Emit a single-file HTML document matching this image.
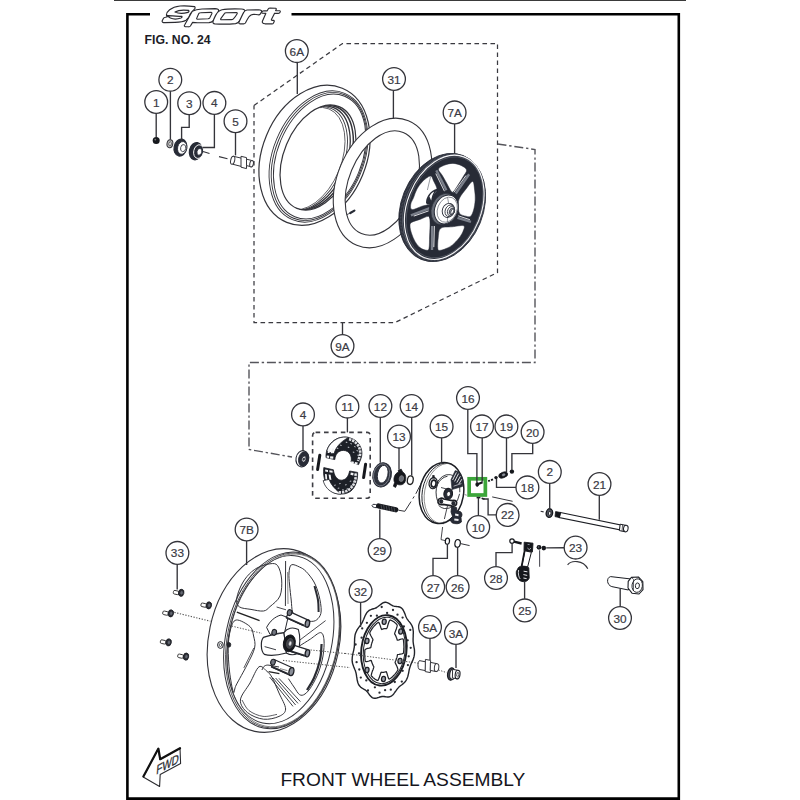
<!DOCTYPE html>
<html><head><meta charset="utf-8"><title>Front Wheel Assembly</title>
<style>
html,body{margin:0;padding:0;background:#fff;}
body{width:800px;height:800px;overflow:hidden;font-family:"Liberation Sans",sans-serif;}
svg{display:block;font-family:"Liberation Sans",sans-serif;}
</style></head><body>
<svg width="800" height="800" viewBox="0 0 800 800">
<rect x="114" y="0" width="572" height="1" fill="#3a3a3a"/>
<path d="M150,14.2 H127.4 V798.6 H678.8 V14.2 H291.5" fill="none" stroke="#000" stroke-width="2.6" stroke-linejoin="miter"/>
<text x="144.6" y="43.5" font-size="12.25" font-weight="bold" fill="#1d1d28">FIG. NO. 24</text>
<text x="280.4" y="785.8" font-size="18.8" fill="#15151c" textLength="245" lengthAdjust="spacingAndGlyphs">FRONT WHEEL ASSEMBLY</text>
<path d="M180,6 C184,5.6 190,6 194.4,6.6 Q195.6,7.4 194.8,8.6 L192.6,11.4 L190.4,13.6 C189.8,16 188.6,18.4 186,20.2 C183.6,21.6 180,22.2 175,22.4 L165,22.6 Q161.6,22.6 162.2,20.8 L163.4,18.4 Q164,17.4 165.6,17.2 L167.4,16.6 L166.4,15 C166.4,13 167.6,11.4 169.6,9.8 C172.4,7.6 176,6.4 180,6 Z" fill="#fff" stroke="#2b2b30" stroke-width="1.15" stroke-linejoin="round" stroke-linecap="round"/>
<path d="M175,12 C177.6,10.4 184,9.8 188.6,10.4 Q189.6,11.4 188,12.4 C184,13.4 178,13.4 175,12 Z" fill="#fff" stroke="#2b2b30" stroke-width="1.2" stroke-linejoin="round" stroke-linecap="round"/>
<path d="M166.6,15.4 C171,16 177,16 182,16.4 Q182.4,17.4 181,18 C177.6,19.2 172.6,19 170.4,18 Z" fill="#fff" stroke="#2b2b30" stroke-width="1.2" stroke-linejoin="round" stroke-linecap="round"/>
<path d="M192.3,11.3 C195,9.8 198,9.2 202,9 L215,8.6 Q219,8.8 218.6,10.4 C218.4,12.4 217.6,14 216.6,15.6 C215.4,17.6 214.4,19.4 213,20.8 Q211.6,22.4 209,22.6 L197.6,22.8 L192.6,22.4 L190.4,26 Q189.8,26.8 188.6,26.8 L185.2,26.6 Q183.8,26.2 184.6,25 Z" fill="#fff" stroke="#2b2b30" stroke-width="1.15" stroke-linejoin="round" stroke-linecap="round"/>
<path d="M198.8,13.6 Q199.2,12.8 200.4,12.8 L211,12.4 Q212.4,12.6 211.8,13.8 L209.8,17.8 Q209.2,18.6 208,18.8 L197.4,19.2 Q196.2,19 196.8,18 Z" fill="#fff" stroke="#2b2b30" stroke-width="1.1" stroke-linejoin="round" stroke-linecap="round"/>
<path d="M213,21.6 C213.6,19.6 214.4,17.6 215.6,15.4 C217.2,12.4 219,10.6 222,9.8 C226,9 236,8.8 241.4,9 Q245.4,9.4 244.8,11.2 C244.2,13.6 243,16.2 241.2,18.8 C239.6,21.2 238.4,23 235.6,23.6 C230,24.2 220,24.2 215,24 Q212.4,23.6 213,21.6 Z" fill="#fff" stroke="#2b2b30" stroke-width="1.15" stroke-linejoin="round" stroke-linecap="round"/>
<path d="M224.4,13.6 Q224.8,12.8 226,12.8 L236.4,12.6 Q237.8,12.8 237,14 C236,15.8 234.8,17.4 233.4,18.8 Q232.6,19.6 231.4,19.6 L221.4,19.8 Q220.2,19.6 220.8,18.6 Z" fill="#fff" stroke="#2b2b30" stroke-width="1.1" stroke-linejoin="round" stroke-linecap="round"/>
<path d="M239,22.2 C240.6,18.6 242,15.4 243.6,12.6 Q244.4,10.4 247,10 L258.6,9.8 Q262.4,10 261.4,12 L260.2,14.2 Q259.6,15 258,14.8 L254,14.2 C251.6,14.2 250,15.2 248.8,17 C247.6,18.8 246.4,21 245.4,23 Q244.8,23.8 243.6,23.8 L239.8,23.8 Q238.4,23.4 239,22.2 Z" fill="#fff" stroke="#2b2b30" stroke-width="1.15" stroke-linejoin="round" stroke-linecap="round"/>
<path d="M270.2,8 L275.6,8.2 Q276.6,8.6 276.2,9.4 L275.6,10.6 L279.6,10.8 Q280.6,11.2 280.2,12 L279.6,12.8 Q279.2,13.4 278.2,13.4 L274.6,13.2 L271.4,19.6 Q271.2,20.4 272.2,20.4 L273.6,20.4 Q274.6,20.8 274.2,21.6 L273.4,23.2 Q273,23.8 272,23.8 L265,23.8 Q261.6,23.4 262.4,21.2 L265.8,13.4 L262.4,13.2 Q261.4,12.8 261.8,12 L262.6,11.2 Q263,10.8 264,10.8 L267.2,10.8 L268.2,9 Q268.8,8 270.2,8 Z" fill="#fff" stroke="#2b2b30" stroke-width="1.15" stroke-linejoin="round" stroke-linecap="round"/>
<polyline points="254,105.5 342.5,43.5 497.5,43.5 497.5,272.5 395,322.5 254,322.5 254,105.5" fill="none" stroke="#3a3a40" stroke-width="1.25" stroke-dasharray="4.6,3.4" />
<polyline points="497.5,144 535,149.5 535,362.5 249,362.5 249,449.5 292,457" fill="none" stroke="#55555b" stroke-width="1.4" stroke-dasharray="9,2.8,2.4,2.8" />
<defs><clipPath id="tireHole"><ellipse cx="318" cy="157.5" rx="34.1" ry="55.1" transform="rotate(22.5 318 157.5)"/></clipPath></defs>
<ellipse cx="314.5" cy="155.3" rx="52" ry="72.6" transform="rotate(22.5 314.5 155.3)" fill="#fff" stroke="#34343a" stroke-width="1.2" />
<ellipse cx="318.5" cy="156.5" rx="45.3" ry="68.4" transform="rotate(22.5 318.5 156.5)" fill="none" stroke="#34343a" stroke-width="0.9" />
<ellipse cx="319.1" cy="156.5" rx="43.699999999999996" ry="66.80000000000001" transform="rotate(22.5 319.1 156.5)" fill="none" stroke="#34343a" stroke-width="0.9" />
<ellipse cx="319.7" cy="156.5" rx="42.099999999999994" ry="65.2" transform="rotate(22.5 319.7 156.5)" fill="none" stroke="#34343a" stroke-width="0.9" />
<g clip-path="url(#tireHole)">
<ellipse cx="315.6" cy="157.788" rx="33.9" ry="54.9" transform="rotate(22.5 315.6 157.788)" fill="none" stroke="#34343a" stroke-width="1.5" />
<ellipse cx="312.8" cy="158.124" rx="33.6" ry="54.6" transform="rotate(22.5 312.8 158.124)" fill="none" stroke="#34343a" stroke-width="1.3" />
<ellipse cx="310.4" cy="158.412" rx="33.2" ry="54.2" transform="rotate(22.5 310.4 158.412)" fill="none" stroke="#34343a" stroke-width="0.9" />
<ellipse cx="308.4" cy="158.652" rx="32.8" ry="53.8" transform="rotate(22.5 308.4 158.652)" fill="none" stroke="#34343a" stroke-width="0.7" />
</g>
<ellipse cx="318" cy="157.5" rx="34.1" ry="55.1" transform="rotate(22.5 318 157.5)" fill="none" stroke="#34343a" stroke-width="1.2" />
<path d="M408.39,120.73 A45.2,67.4 22.5 1 0 356.81,245.27 A45.2,67.4 22.5 1 0 408.39,120.73 Z M403.23,132.46 A33.2,54.7 22.5 1 0 361.37,233.54 A33.2,54.7 22.5 1 0 403.23,132.46 Z" fill="#fff" fill-rule="evenodd" stroke="#34343a" stroke-width="1.1"/>
<polyline points="350.3,213 354.4,210.6" fill="none" stroke="#272b36" stroke-width="2.2" stroke-linecap="round"/>
<polyline points="346.5,214.8 350.3,213" fill="none" stroke="#34343a" stroke-width="0.9" />
<ellipse cx="442.2" cy="207.5" rx="41" ry="56" transform="rotate(22 442.2 207.5)" fill="#272b36" stroke="#272b36" stroke-width="0.8" />
<ellipse cx="442.7" cy="207.4" rx="39.5" ry="54.9" transform="rotate(22 442.7 207.4)" fill="none" stroke="#4c515c" stroke-width="1.6" stroke-dasharray="0.7,0.7"/>
<ellipse cx="443.4" cy="207.4" rx="38.2" ry="54.4" transform="rotate(22 443.4 207.4)" fill="none" stroke="#8a8f99" stroke-width="0.5" />
<ellipse cx="444.2" cy="207.3" rx="36.9" ry="54.1" transform="rotate(22 444.2 207.3)" fill="none" stroke="#f4f4f6" stroke-width="1.15" />
<ellipse cx="444.6" cy="207.3" rx="35.6" ry="52.6" transform="rotate(22 444.6 207.3)" fill="none" stroke="#6f747e" stroke-width="0.5" />
<path d="M438.5,169.0 C439.0,167.3 442.6,165.9 445.0,165.0 C447.4,164.1 450.3,163.3 453.0,163.4 C455.7,163.5 458.7,164.3 461.0,165.4 C463.3,166.5 466.3,168.1 466.6,170.0 C466.9,171.9 464.4,174.5 463.0,177.0 C461.6,179.5 459.6,182.6 458.0,185.0 C456.4,187.4 454.6,190.6 453.4,191.6 C452.2,192.6 452.1,192.4 451.0,191.0 C449.9,189.6 448.1,185.7 446.6,183.0 C445.1,180.3 443.4,177.3 442.0,175.0 C440.6,172.7 438.0,170.7 438.5,169.0 Z" fill="#fff" stroke="#272b36" stroke-width="0.5"/>
<path d="M472.6,181.4 C474.0,181.6 474.2,186.9 474.6,190.0 C475.0,193.1 475.4,196.7 475.2,200.0 C475.0,203.3 474.4,207.3 473.6,210.0 C472.8,212.7 471.9,215.2 470.6,216.2 C469.3,217.2 467.8,216.7 466.0,216.2 C464.2,215.7 460.9,215.3 459.6,213.4 C458.3,211.5 458.4,207.6 458.4,205.0 C458.4,202.4 458.3,200.7 459.6,198.0 C460.9,195.3 463.8,191.8 466.0,189.0 C468.2,186.2 471.2,181.2 472.6,181.4 Z" fill="#fff" stroke="#272b36" stroke-width="0.5"/>
<path d="M440.6,228.4 C442.9,226.5 448.2,227.2 452.0,226.8 C455.8,226.4 461.8,225.0 463.6,225.8 C465.4,226.6 463.8,229.3 463.0,231.4 C462.2,233.5 460.4,236.3 458.6,238.6 C456.9,240.8 454.6,243.2 452.5,244.9 C450.4,246.6 448.1,247.7 446.0,248.6 C443.9,249.5 441.2,250.4 439.8,250.4 C438.4,250.4 438.1,250.7 437.8,248.6 C437.5,246.5 437.7,241.4 438.2,238.0 C438.7,234.6 438.3,230.3 440.6,228.4 Z" fill="#fff" stroke="#272b36" stroke-width="0.5"/>
<path d="M411.6,222.4 C413.3,221.3 417.2,220.4 420.0,219.4 C422.8,218.4 426.9,216.0 428.6,216.4 C430.3,216.8 429.8,218.7 430.0,222.0 C430.2,225.3 429.8,231.6 429.6,236.0 C429.4,240.4 429.6,246.0 429.0,248.4 C428.4,250.8 427.5,250.3 426.0,250.2 C424.5,250.1 421.8,249.1 420.0,247.6 C418.2,246.1 416.4,243.8 415.0,241.4 C413.6,239.0 412.2,235.6 411.4,233.0 C410.6,230.4 410.0,227.8 410.0,226.0 C410.0,224.2 409.9,223.5 411.6,222.4 Z" fill="#fff" stroke="#272b36" stroke-width="0.5"/>
<path d="M413.6,197.6 C414.6,195.1 415.5,191.7 417.0,189.0 C418.5,186.3 420.4,183.6 422.6,181.4 C424.8,179.2 428.6,176.1 430.4,176.0 C432.2,175.9 432.5,178.8 433.6,181.0 C434.7,183.2 436.8,186.9 437.0,189.0 C437.2,191.1 435.5,192.1 434.6,193.6 C433.7,195.1 432.0,196.3 431.4,198.0 C430.8,199.7 432.6,202.2 431.0,203.6 C429.4,205.0 425.2,205.2 422.0,206.2 C418.8,207.2 413.9,210.0 412.0,209.6 C410.1,209.2 410.5,206.0 410.8,204.0 C411.1,202.0 412.6,200.1 413.6,197.6 Z" fill="#fff" stroke="#272b36" stroke-width="0.5"/>
<path d="M437.4,189.6 C431,191 426.6,197 426.8,203.4" fill="none" stroke="#272b36" stroke-width="1.6"/>
<path d="M437.4,189.6 C434,193 432,198.6 431.6,204 L426.8,204.6 C427,198 431,191.4 437.4,189.6 Z" fill="#272b36"/>
<path d="M429.4,196.4 C430.6,194 432.4,192.4 434.2,191.6 C432.6,194.4 431.6,197.4 431.2,200.6 Z" fill="#fff"/>
<polyline points="430.6,176.4 427.4,190" fill="none" stroke="#555a66" stroke-width="0.6" />
<line x1="446.4" y1="190.3" x2="436.3" y2="170.4" stroke="#7a7f8a" stroke-width="2.4"/>
<line x1="444.5" y1="191.3" x2="435.8" y2="173.6" stroke="#f2f2f5" stroke-width="0.9"/>
<line x1="455.7" y1="193.5" x2="469.1" y2="174.2" stroke="#7a7f8a" stroke-width="2.4"/>
<line x1="453.9" y1="192.3" x2="466.0" y2="175.5" stroke="#f2f2f5" stroke-width="0.9"/>
<line x1="457.5" y1="217.9" x2="471.0" y2="221.9" stroke="#7a7f8a" stroke-width="2.4"/>
<line x1="458.2" y1="215.8" x2="469.9" y2="219.7" stroke="#f2f2f5" stroke-width="0.9"/>
<line x1="432.2" y1="226.0" x2="432.0" y2="250.0" stroke="#7a7f8a" stroke-width="2.4"/>
<line x1="434.4" y1="226.0" x2="433.8" y2="247.1" stroke="#f2f2f5" stroke-width="0.9"/>
<line x1="429.8" y1="208.1" x2="410.9" y2="215.3" stroke="#7a7f8a" stroke-width="2.4"/>
<line x1="430.6" y1="210.2" x2="413.8" y2="216.1" stroke="#f2f2f5" stroke-width="0.9"/>
<ellipse cx="442.4" cy="208.8" rx="12.6" ry="17.4" transform="rotate(22 442.4 208.8)" fill="#272b36" stroke="#272b36" stroke-width="0.8" />
<ellipse cx="443.6" cy="209.0" rx="11.9" ry="16.2" transform="rotate(22 443.6 209.0)" fill="#676c77" stroke="#272b36" stroke-width="0.6" />
<ellipse cx="446.25" cy="209.4" rx="11.4" ry="14.9" transform="rotate(22 446.25 209.4)" fill="#fff" stroke="#272b36" stroke-width="1.0" />
<ellipse cx="447.2" cy="209.7" rx="9.6" ry="13.0" transform="rotate(22 447.2 209.7)" fill="none" stroke="#555a66" stroke-width="0.6" />
<polyline points="447.6,197.6 448.6,203.2" fill="none" stroke="#555a66" stroke-width="0.6" />
<polyline points="447.6,218 447.2,223.4" fill="none" stroke="#555a66" stroke-width="0.6" />
<ellipse cx="448.3" cy="210.4" rx="5.9" ry="7.2" transform="rotate(22 448.3 210.4)" fill="#fff" stroke="#272b36" stroke-width="0.9" />
<ellipse cx="449.8" cy="210.8" rx="4.6" ry="6.0" transform="rotate(22 449.8 210.8)" fill="#fff" stroke="#272b36" stroke-width="0.8" />
<ellipse cx="451.0" cy="211.1" rx="3.4" ry="4.8" transform="rotate(22 451.0 211.1)" fill="#fff" stroke="#272b36" stroke-width="0.8" />
<ellipse cx="451.7" cy="211.4" rx="2.3" ry="3.6" transform="rotate(22 451.7 211.4)" fill="#8a8e98" stroke="#272b36" stroke-width="0.7" />
<ellipse cx="452.3" cy="211.5" rx="1.2" ry="2.6" transform="rotate(22 452.3 211.5)" fill="#fff" stroke="#272b36" stroke-width="0.6" />
<circle cx="156.2" cy="140.6" r="3.5" fill="#16181d"/>
<circle cx="155.3" cy="139.6" r="0.9" fill="#777"/>
<ellipse cx="169.9" cy="143.7" rx="2.9" ry="4.0" transform="rotate(10 169.9 143.7)" fill="#bbb" stroke="#34343a" stroke-width="1.0" />
<ellipse cx="170.1" cy="143.8" rx="1.2" ry="1.9" transform="rotate(10 170.1 143.8)" fill="#fff" stroke="#34343a" stroke-width="0.7" />
<ellipse cx="180.4" cy="147.6" rx="6.3" ry="8.6" transform="rotate(12 180.4 147.6)" fill="#272b36" stroke="#272b36" stroke-width="1.2" />
<ellipse cx="182.2" cy="147.9" rx="4.6" ry="6.4" transform="rotate(12 182.2 147.9)" fill="#fff" stroke="#272b36" stroke-width="0.8" />
<ellipse cx="183.2" cy="148.1" rx="2.6" ry="3.6" transform="rotate(12 183.2 148.1)" fill="#fff" stroke="#272b36" stroke-width="0.8" />
<ellipse cx="195.8" cy="151.2" rx="6.4" ry="8.7" transform="rotate(12 195.8 151.2)" fill="#272b36" stroke="#272b36" stroke-width="1.2" />
<ellipse cx="198.6" cy="151.6" rx="4.9" ry="6.9" transform="rotate(12 198.6 151.6)" fill="#272b36" stroke="#fff" stroke-width="0.9" />
<ellipse cx="199.4" cy="151.8" rx="2.4" ry="3.4" transform="rotate(12 199.4 151.8)" fill="#fff" stroke="#272b36" stroke-width="0.8" />
<polyline points="203,151.5 209.5,153.6" fill="none" stroke="#34343a" stroke-width="1.1" />
<polyline points="219,156.6 227.5,158.8" fill="none" stroke="#34343a" stroke-width="1.1" />
<path d="M233,156.2 L241.5,158.2 L241.5,166.5 L233,164.3 Z" fill="#fff" stroke="#34343a" stroke-width="1"/>
<ellipse cx="232.7" cy="160.2" rx="2.0" ry="4.1" transform="rotate(12 232.7 160.2)" fill="#fff" stroke="#34343a" stroke-width="1.0" />
<path d="M241,156.3 L246.5,157.6 L246.5,168.6 L241,167.2 Z" fill="#fff" stroke="#34343a" stroke-width="1"/>
<path d="M246.5,159.2 L251.5,160.4 L251.5,166.8 L246.5,165.6 Z" fill="#fff" stroke="#34343a" stroke-width="1"/>
<ellipse cx="251.6" cy="163.7" rx="1.8" ry="3.3" transform="rotate(12 251.6 163.7)" fill="#fff" stroke="#34343a" stroke-width="1.0" />
<ellipse cx="302.3" cy="458.8" rx="6.3" ry="8.2" transform="rotate(12 302.3 458.8)" fill="#fff" stroke="#272b36" stroke-width="1.1" />
<ellipse cx="303.6" cy="459" rx="5.0" ry="7.4" transform="rotate(12 303.6 459)" fill="#272b36" stroke="#272b36" stroke-width="0.8" />
<ellipse cx="303.9" cy="459.1" rx="2.0" ry="3.0" transform="rotate(12 303.9 459.1)" fill="#fff" stroke="#272b36" stroke-width="0.8" />
<ellipse cx="303.9" cy="459.1" rx="0.8" ry="1.3" transform="rotate(12 303.9 459.1)" fill="#272b36" stroke="#272b36" stroke-width="0.6" />
<rect x="312.6" y="432.4" width="57.6" height="65.8" rx="3" fill="none" stroke="#3e3e44" stroke-width="1.6" stroke-dasharray="4.6,3.8"/>
<path d="M326,457.6 C325.6,450 329,444 334.6,440 C340,436.4 349,435.8 355.6,440.6 C361,444.8 363.4,452 361,458.6 L358.6,464.6 L351,462 C352.4,456.4 349.6,450.6 343.4,450.4 C338.4,450.4 335.4,454 334.8,459.6 Z" fill="#1d2027" stroke="#1d2027" stroke-width="0.8" stroke-linejoin="round"/>
<path d="M326.8,451.4 C328,445.6 332.4,440.8 338.4,438.2 C341.6,437 345,436.8 348.6,437.4 C344.6,439.6 339.6,443 336.8,447.4 C335.4,449.6 334.6,451.6 334,453.8 Z" fill="#fff" stroke="#1d2027" stroke-width="0.8" stroke-linejoin="round"/>
<path d="M328.6,448.4 L330.6,448.2 L329.4,453 L327.6,453 Z M332,448.6 L334.4,448.4 L332.4,453.2 L330.8,453.2 Z" fill="#f2f3f5"/>
<path d="M326.8,455.6 L329.2,455.8 L329,458 L326.6,457.6 Z M330.2,456.2 L333.4,456.6 L333.2,458.8 L330,458.4 Z" fill="#f2f3f5"/>
<path d="M351.4,461.2 L354,461.8 L353.6,463.6 L351,463 Z M355,462 L357.8,462.6 L357.2,464.4 L354.6,463.8 Z" fill="#f2f3f5"/>
<path d="M349,439.2 C352.4,440 355.6,442 357.8,445 C360,448.2 360.8,452.4 359.6,456.6 L358,461" fill="none" stroke="#dfe0e4" stroke-width="2.6" stroke-dasharray="2.4,0.9"/>
<rect x="346" y="441.6" width="1.6" height="0.9" fill="#c9ccd2" transform="rotate(25 346 441.6)"/>
<rect x="350.6" y="443" width="1.6" height="0.9" fill="#c9ccd2" transform="rotate(25 350.6 443)"/>
<rect x="354.4" y="446" width="1.6" height="0.9" fill="#c9ccd2" transform="rotate(25 354.4 446)"/>
<rect x="356.8" y="450" width="1.6" height="0.9" fill="#c9ccd2" transform="rotate(25 356.8 450)"/>
<rect x="357.6" y="454.6" width="1.6" height="0.9" fill="#c9ccd2" transform="rotate(25 357.6 454.6)"/>
<rect x="340.4" y="444.6" width="1.6" height="0.9" fill="#c9ccd2" transform="rotate(25 340.4 444.6)"/>
<rect x="337" y="447.6" width="1.6" height="0.9" fill="#c9ccd2" transform="rotate(25 337 447.6)"/>
<rect x="348" y="446.6" width="1.6" height="0.9" fill="#c9ccd2" transform="rotate(25 348 446.6)"/>
<rect x="353" y="451.4" width="1.6" height="0.9" fill="#c9ccd2" transform="rotate(25 353 451.4)"/>
<path d="M323.8,467.6 L333.4,469.8 C334,475.6 337,480 341.2,480.2 C345.6,480.2 348.6,476.6 349.6,471 L357.6,472.4 C358,480 355.6,487 351,491 C346.6,494.6 339,495 333.6,492.6 C326.6,489 322.4,478 323.8,467.6 Z" fill="#1d2027" stroke="#1d2027" stroke-width="0.8" stroke-linejoin="round"/>
<path d="M323.2,480.6 C324.6,486.6 329,491.4 335,493.4 C337,494 339,494.2 341,494 C337.6,491 333.4,487.6 331,483.4 C330.2,482 329.6,480.8 329.2,479.4 Z" fill="#fff" stroke="#1d2027" stroke-width="0.8" stroke-linejoin="round"/>
<path d="M325.2,469.6 L328,470 L328,472 L325.2,471.6 Z M329.4,470.2 L332.6,470.8 L332.6,472.8 L329.4,472.2 Z" fill="#f2f3f5"/>
<path d="M325,474 L326.8,474.2 L327.2,479.4 L325.4,479.2 Z M328.6,474.4 L330.6,474.8 L331.4,480 L329.4,479.6 Z" fill="#f2f3f5"/>
<path d="M350.8,472.4 L353.6,473 L353.2,475.4 L350.4,474.8 Z M354.6,473.2 L357,473.6 L356.6,476 L354.2,475.6 Z" fill="#f2f3f5"/>
<path d="M338.6,492.2 C343,492.8 347.6,491.4 350.8,488.2 C354,485 355.6,480.4 355.8,475.6" fill="none" stroke="#dfe0e4" stroke-width="2.6" stroke-dasharray="2.4,0.9"/>
<rect x="334" y="485" width="1.6" height="0.9" fill="#c9ccd2" transform="rotate(-15 334 485)"/>
<rect x="337.6" y="488" width="1.6" height="0.9" fill="#c9ccd2" transform="rotate(-15 337.6 488)"/>
<rect x="342" y="489.6" width="1.6" height="0.9" fill="#c9ccd2" transform="rotate(-15 342 489.6)"/>
<rect x="346.6" y="488.6" width="1.6" height="0.9" fill="#c9ccd2" transform="rotate(-15 346.6 488.6)"/>
<rect x="350.4" y="485.6" width="1.6" height="0.9" fill="#c9ccd2" transform="rotate(-15 350.4 485.6)"/>
<rect x="353" y="481.6" width="1.6" height="0.9" fill="#c9ccd2" transform="rotate(-15 353 481.6)"/>
<rect x="339" y="483.4" width="1.6" height="0.9" fill="#c9ccd2" transform="rotate(-15 339 483.4)"/>
<rect x="345" y="484.6" width="1.6" height="0.9" fill="#c9ccd2" transform="rotate(-15 345 484.6)"/>
<rect x="349.6" y="481" width="1.6" height="0.9" fill="#c9ccd2" transform="rotate(-15 349.6 481)"/>
<polyline points="319.8,455.2 317.6,469.6" fill="none" stroke="#16181d" stroke-width="3.0" stroke-linecap="round"/>
<polyline points="365.6,464.2 363.6,477.6" fill="none" stroke="#16181d" stroke-width="3.0" stroke-linecap="round"/>
<ellipse cx="382.1" cy="474.9" rx="9.2" ry="12.2" transform="rotate(12 382.1 474.9)" fill="#30343e" stroke="#272b36" stroke-width="1.0" />
<ellipse cx="381.6" cy="474.9" rx="8.0" ry="11.2" transform="rotate(12 381.6 474.9)" fill="none" stroke="#9a9ea8" stroke-width="0.6" />
<ellipse cx="382.7" cy="474.2" rx="5.2" ry="9.0" transform="rotate(12 382.7 474.2)" fill="#fff" stroke="#272b36" stroke-width="0.9" />
<path d="M398.2,470.2 L401.2,469.2 L402.6,472 C406,473.5 406.8,479 404.4,483 C402,485.6 398,485 397,484 L395.6,487.4 L393.4,486.2 L394.6,482.6 C393,479 394.4,473.6 398.6,472 Z" fill="#15171c" stroke="#15171c" stroke-width="0.8"/>
<ellipse cx="401.4" cy="478.6" rx="2.2" ry="3.0" transform="rotate(12 401.4 478.6)" fill="#6a6e78" stroke="#888" stroke-width="0.6" />
<ellipse cx="410.3" cy="480.2" rx="2.9" ry="4.3" transform="rotate(10 410.3 480.2)" fill="#fff" stroke="#222" stroke-width="1.3" />
<ellipse cx="375" cy="506" rx="3.0" ry="1.6" transform="rotate(12 375 506)" fill="#fff" stroke="#272b36" stroke-width="0.9" />
<polyline points="378.6,506 395.8,509.8" fill="none" stroke="#17191e" stroke-width="5.2" stroke-linecap="round"/>
<polyline points="381.0,504.40000000000003 381.8,509.20000000000005" fill="none" stroke="#70747e" stroke-width="0.5" />
<polyline points="383.6,504.97 384.40000000000003,509.77000000000004" fill="none" stroke="#70747e" stroke-width="0.5" />
<polyline points="386.2,505.54 387.0,510.34000000000003" fill="none" stroke="#70747e" stroke-width="0.5" />
<polyline points="388.8,506.11 389.6,510.91" fill="none" stroke="#70747e" stroke-width="0.5" />
<polyline points="391.4,506.68 392.2,511.48" fill="none" stroke="#70747e" stroke-width="0.5" />
<polyline points="394.0,507.25000000000006 394.8,512.0500000000001" fill="none" stroke="#70747e" stroke-width="0.5" />
<polyline points="398.4,510.2 404.8,511.3 411,501.6" fill="none" stroke="#34343a" stroke-width="1.0" />
<polyline points="412.8,498.6 414.2,496.4" fill="none" stroke="#34343a" stroke-width="1.0" />
<polyline points="415.8,493.8 425,476" fill="none" stroke="#34343a" stroke-width="1.0" />
<ellipse cx="441.5" cy="493" rx="22" ry="30.8" transform="rotate(10 441.5 493)" fill="#fff" stroke="#1c1e24" stroke-width="1.5" />
<defs><clipPath id="panelClip"><ellipse cx="441.5" cy="493" rx="21.6" ry="30.4" transform="rotate(10 441.5 493)"/></clipPath></defs>
<g clip-path="url(#panelClip)">
<ellipse cx="443.8" cy="493.4" rx="21.6" ry="30.6" transform="rotate(10 443.8 493.4)" fill="none" stroke="#1c1e24" stroke-width="0.9" />
<ellipse cx="445.5" cy="493.6" rx="21.0" ry="30.4" transform="rotate(10 445.5 493.6)" fill="none" stroke="#555" stroke-width="0.6" />
</g>
<ellipse cx="447.2" cy="491.6" rx="12.6" ry="17.2" transform="rotate(10 447.2 491.6)" fill="none" stroke="#1c1e24" stroke-width="0.8" stroke-dasharray="30,22,40,100"/>
<path d="M447.5,476.2 C438,478 433.6,489 437.4,500.5" fill="none" stroke="#1c1e24" stroke-width="0.9"/>
<path d="M441,487.5 L452,490.4" fill="none" stroke="#1c1e24" stroke-width="0.8"/>
<ellipse cx="433.2" cy="483.2" rx="4.1" ry="5.6" transform="rotate(10 433.2 483.2)" fill="#fff" stroke="#1c1e24" stroke-width="1.2" />
<ellipse cx="433.6" cy="483.6" rx="2.4" ry="3.5" transform="rotate(10 433.6 483.6)" fill="#fff" stroke="#1c1e24" stroke-width="1.6" />
<path d="M432.2,475.2 L434.4,475 L435,478.4 L432.4,478.6 Z" fill="#1c1e24"/>
<path d="M451,479.5 L455.2,470.6 C459.5,471.6 462.6,476 463.4,482 L462.6,486.4 L452,489.6 Z" fill="#272b36" stroke="#272b36" stroke-width="0.6"/>
<polyline points="452.6,480 456.4,472.4" fill="none" stroke="#f2f2f4" stroke-width="0.9" />
<polyline points="454.6,481.4 458.6,473.6" fill="none" stroke="#f2f2f4" stroke-width="0.9" />
<polyline points="456.8,482.6 460.4,476.2" fill="none" stroke="#f2f2f4" stroke-width="0.9" />
<polyline points="458.8,484 461.8,479.2" fill="none" stroke="#f2f2f4" stroke-width="0.9" />
<polyline points="453.6,486.2 461.4,483.6" fill="none" stroke="#d9d9de" stroke-width="0.7" />
<ellipse cx="448.2" cy="493.8" rx="4.3" ry="5.4" transform="rotate(10 448.2 493.8)" fill="#272b36" stroke="#1c1e24" stroke-width="1.2" />
<ellipse cx="448.6" cy="494.0" rx="1.9" ry="2.6" transform="rotate(10 448.6 494.0)" fill="#fff" stroke="#1c1e24" stroke-width="0.8" />
<path d="M438,500.6 C439,497.8 442,497.6 444,499 L452,500.6 C455.5,499.6 457.4,501.4 456.4,504.4 C455.5,506.6 452.6,506.8 450.6,505.6 L443,504.4 C440,505.4 437.4,503.8 438,500.6 Z" fill="#fff" stroke="#1c1e24" stroke-width="1.7"/>
<ellipse cx="441.2" cy="501.4" rx="1.6" ry="1.9" transform="rotate(0 441.2 501.4)" fill="#272b36" stroke="#1c1e24" stroke-width="0.9" />
<ellipse cx="453.4" cy="503.4" rx="1.6" ry="1.9" transform="rotate(0 453.4 503.4)" fill="#272b36" stroke="#1c1e24" stroke-width="0.9" />
<path d="M451.6,507 L456.6,507.6 L456.8,511 L460.4,511.6 C462.4,513 462.4,516 461,517.4 L461.4,522 C459.6,524.2 455,524.2 452,522.8 L449.6,519.4 L452.6,516.6 L451,512 Z" fill="#272b36" stroke="#1c1e24" stroke-width="0.8"/>
<path d="M455.2,513.6 L458.6,514.2 L458.4,516.2 L455,515.6 Z M454.4,518.4 L458.6,519 L458.4,521 L454.2,520.4 Z" fill="#f0f0f2"/>
<polyline points="447.6,505.4 444.4,519" fill="none" stroke="#34343a" stroke-width="0.9" />
<polyline points="443.8,521.6 443.2,524.2" fill="none" stroke="#34343a" stroke-width="0.9" />
<polyline points="442.6,527 441,539.6 446,540.8" fill="none" stroke="#34343a" stroke-width="0.9" />
<polyline points="464.6,494.6 466.8,495.2" fill="none" stroke="#666" stroke-width="0.8" />
<rect x="469.15" y="478.8" width="16.2" height="16.2" fill="none" stroke="#3ca63a" stroke-width="3.7"/>
<ellipse cx="477.2" cy="484.4" rx="1.4" ry="2.0" transform="rotate(0 477.2 484.4)" fill="#15171c" stroke="#15171c" stroke-width="0.8" />
<polyline points="477.6,484.2 482.6,482.2" fill="none" stroke="#15171c" stroke-width="2.2" />
<polyline points="488.2,481.2 490,480.5" fill="none" stroke="#15171c" stroke-width="1.8" />
<polyline points="491,480.1 493,479.3" fill="none" stroke="#15171c" stroke-width="1.8" />
<circle cx="496" cy="477.6" r="1.7" fill="#15171c"/>
<ellipse cx="503.2" cy="475" rx="4.6" ry="2.7" transform="rotate(-20 503.2 475)" fill="#15171c" stroke="#15171c" stroke-width="0.8" />
<ellipse cx="503.6" cy="474.8" rx="1.6" ry="1.0" transform="rotate(-20 503.6 474.8)" fill="#8a8e98" stroke="#8a8e98" stroke-width="0.5" />
<circle cx="511.9" cy="471.6" r="2.2" fill="#15171c"/>
<polyline points="492.2,496.9 512.6,501.3" fill="none" stroke="#34343a" stroke-width="1.0" />
<polyline points="476.6,497.6 480.4,497.6" fill="none" stroke="#15171c" stroke-width="1.6" />
<polyline points="481.6,498.2 484.6,499" fill="none" stroke="#15171c" stroke-width="1.6" />
<polyline points="540.6,511.2 543.6,511.9" fill="none" stroke="#34343a" stroke-width="1.1" />
<ellipse cx="549.4" cy="513.1" rx="3.2" ry="4.4" transform="rotate(10 549.4 513.1)" fill="#50545e" stroke="#15171c" stroke-width="1.3" />
<ellipse cx="549.7" cy="513.2" rx="1.2" ry="2.0" transform="rotate(10 549.7 513.2)" fill="#fff" stroke="#15171c" stroke-width="0.8" />
<path d="M560.4,512.5 L620.6,525 L619.8,529.9 L559.2,517.5 Z" fill="#fff" stroke="#1c1e24" stroke-width="1.1"/>
<path d="M555.6,511.6 L560.6,512.5 L559.4,517.6 L555,516.6 Z" fill="#15171c" stroke="#15171c" stroke-width="0.8"/>
<path d="M620.2,524.2 L626,525.4 L625.2,531.8 L619.4,530.6 Z" fill="#fff" stroke="#1c1e24" stroke-width="1.0"/>
<ellipse cx="625.8" cy="528.6" rx="2.3" ry="3.3" transform="rotate(10 625.8 528.6)" fill="#fff" stroke="#1c1e24" stroke-width="1.0" />
<polyline points="622.6,524.8 622,531.2" fill="none" stroke="#1c1e24" stroke-width="0.7" />
<ellipse cx="447.4" cy="541.2" rx="2.1" ry="3.1" transform="rotate(8 447.4 541.2)" fill="#fff" stroke="#15171c" stroke-width="1.2" />
<ellipse cx="457.6" cy="543.4" rx="2.7" ry="3.9" transform="rotate(8 457.6 543.4)" fill="#fff" stroke="#15171c" stroke-width="1.2" />
<polyline points="460.6,543.6 469.6,545.6" fill="none" stroke="#34343a" stroke-width="1.0" />
<circle cx="512" cy="541.1" r="2.2" fill="#fff" stroke="#15171c" stroke-width="1.2"/>
<polyline points="514,541.6 521.6,543.5" fill="none" stroke="#15171c" stroke-width="2.4" />
<path d="M524.2,542.2 L533,543.2 L532.4,552 L524,550.8 Z" fill="#15171c" stroke="#15171c" stroke-width="0.9" stroke-linejoin="round"/>
<path d="M527.4,548 L529.2,549.6 L531,548.2" fill="none" stroke="#cfd1d6" stroke-width="0.8"/>
<path d="M527.6,544.4 L529.6,544.6" fill="none" stroke="#8a8e98" stroke-width="1"/>
<path d="M524.8,550.8 L521.8,566.4 L527.6,567 L531.4,552.2 Z" fill="#fff" stroke="#15171c" stroke-width="1.0"/>
<polyline points="524.6,551 521.6,566.4" fill="none" stroke="#15171c" stroke-width="1.8" />
<path d="M518.4,567.6 C520,565.4 527.4,566 528.8,567.8 L529.2,578 C528,581.6 524,582.4 520.6,581 C517.4,579.4 515.8,575 516.4,571.4 Z" fill="#15171c" stroke="#15171c" stroke-width="0.9"/>
<path d="M518.6,570 C518,573.6 518.6,577 520.2,579" fill="none" stroke="#e8e8ec" stroke-width="0.9"/>
<path d="M523.6,571.2 L527.4,571.8 M523.4,574.6 L527.2,575.4 M523.4,578 L526.6,578.6" fill="none" stroke="#e8e8ec" stroke-width="1.0"/>
<circle cx="539" cy="547.3" r="2.4" fill="#15171c"/>
<circle cx="543.8" cy="548.1" r="2.3" fill="#15171c"/>
<circle cx="538.6" cy="547" r="0.8" fill="#70747e"/>
<polyline points="539.6,550.2 539.6,566.8" fill="none" stroke="#50505a" stroke-width="1.1" />
<path d="M567.6,564.8 C571,560.2 583,559.6 587.8,568.8" fill="none" stroke="#34343a" stroke-width="1.1"/>
<path d="M610.6,576.6 L631.2,579 L628.4,590 L611.8,586.6 C606.6,585 606.2,577.6 610.6,576.6 Z" fill="#fff" stroke="#1c1e24" stroke-width="1.0"/>
<path d="M631.4,577.4 L638.4,577 L642.8,581.6 L643,589.6 L639,594 L632,593.2 L628,588 L628.2,581.4 Z" fill="#fff" stroke="#1c1e24" stroke-width="1.1" stroke-linejoin="round"/>
<ellipse cx="637.2" cy="585.6" rx="5.2" ry="6.8" transform="rotate(8 637.2 585.6)" fill="#fff" stroke="#1c1e24" stroke-width="0.9" />
<ellipse cx="637.4" cy="585.8" rx="2.0" ry="2.9" transform="rotate(8 637.4 585.8)" fill="#fff" stroke="#1c1e24" stroke-width="0.9" />
<polyline points="631.4,577.4 633.6,579.4 633.4,591" fill="none" stroke="#1c1e24" stroke-width="0.7" />
<polyline points="174.4,612.4 210.4,621.2" fill="none" stroke="#555" stroke-width="1.1" stroke-dasharray="1.3,1.5" />
<ellipse cx="274" cy="640.5" rx="65.3" ry="92.9" transform="rotate(12 274 640.5)" fill="#fff" stroke="#34343a" stroke-width="1.1" />
<ellipse cx="281.9" cy="640.4" rx="56.3" ry="89.6" transform="rotate(12 281.9 640.4)" fill="#fff" stroke="#34343a" stroke-width="1.0" />
<ellipse cx="282.6" cy="640.4" rx="55.2" ry="88.6" transform="rotate(12 282.6 640.4)" fill="none" stroke="#34343a" stroke-width="0.8" />
<ellipse cx="283.2" cy="640.4" rx="54.2" ry="87.6" transform="rotate(12 283.2 640.4)" fill="none" stroke="#555" stroke-width="0.7" />
<ellipse cx="280.4" cy="639.6" rx="51.5" ry="85.2" transform="rotate(12 280.4 639.6)" fill="none" stroke="#34343a" stroke-width="1.0" />
<polyline points="229,625.4 262,633.4" fill="none" stroke="#555" stroke-width="1.0" stroke-dasharray="1.3,1.5" />
<path d="M239.6,607.0 C237.2,605.4 236.5,603.2 236.6,600.0 C236.7,596.8 238.3,591.9 240.0,588.0 C241.7,584.1 244.2,579.8 247.0,576.5 C249.8,573.2 253.2,570.1 257.0,568.0 C260.8,565.9 266.6,564.2 270.0,563.8 C273.4,563.4 275.7,563.1 277.6,565.6 C279.5,568.1 281.2,573.9 281.6,579.0 C282.0,584.1 281.9,591.4 280.0,596.0 C278.1,600.6 272.8,604.1 270.0,606.6 C267.2,609.1 266.7,610.5 263.5,611.0 C260.3,611.5 255.0,610.1 251.0,609.4 C247.0,608.7 242.0,608.6 239.6,607.0 Z" fill="none" stroke="#34343a" stroke-width="1.0" stroke-linejoin="round"/>
<path d="M291.4,564.8 C293.1,563.8 297.1,565.9 299.5,567.0 C301.9,568.1 303.6,568.9 306.0,571.4 C308.4,573.9 311.8,578.0 314.0,582.0 C316.2,586.0 317.8,590.7 319.0,595.5 C320.2,600.3 321.4,607.1 321.2,611.0 C321.0,614.9 319.6,616.9 318.0,618.6 C316.4,620.3 315.0,621.4 311.5,621.4 C308.0,621.4 300.1,620.2 297.0,618.6 C293.9,617.0 293.6,615.1 292.6,612.0 C291.6,608.9 291.7,604.5 291.2,600.0 C290.7,595.5 290.0,589.5 289.6,585.0 C289.2,580.5 288.7,576.4 289.0,573.0 C289.3,569.6 289.6,565.8 291.4,564.8 Z" fill="none" stroke="#34343a" stroke-width="1.0" stroke-linejoin="round"/>
<path d="M300.0,645.6 C301.8,644.5 307.1,641.2 310.5,639.0 C313.9,636.8 318.4,632.4 320.6,632.6 C322.9,632.8 323.6,636.1 324.0,640.0 C324.4,643.9 323.9,650.7 323.0,656.0 C322.1,661.3 320.5,666.9 318.6,672.0 C316.7,677.1 313.8,682.7 311.5,686.4 C309.2,690.1 307.0,692.6 305.0,694.0 C303.0,695.4 301.3,695.8 299.5,694.6 C297.7,693.4 295.9,689.7 294.0,687.0 C292.1,684.3 289.3,680.0 288.4,678.6" fill="none" stroke="#34343a" stroke-width="1.0" stroke-linejoin="round"/>
<path d="M259.0,666.8 C256.2,668.7 253.1,677.5 250.0,683.0 C246.9,688.5 240.8,695.1 240.4,700.0 C240.0,704.9 243.7,709.4 247.5,712.6 C251.3,715.8 258.2,718.6 263.5,719.2 C268.8,719.8 275.3,718.1 279.0,716.4 C282.7,714.7 285.6,712.9 285.6,709.0 C285.6,705.1 281.3,698.3 279.0,693.0 C276.7,687.7 274.0,681.0 272.0,677.4 C270.0,673.8 269.2,673.2 267.0,671.4 C264.8,669.6 261.8,664.9 259.0,666.8 Z" fill="none" stroke="#34343a" stroke-width="1.0" stroke-linejoin="round"/>
<path d="M236.2,620.0 C239.5,619.4 247.1,623.9 250.0,626.6 C252.9,629.3 252.8,632.4 253.6,636.0 C254.4,639.6 255.7,643.2 254.6,648.0 C253.5,652.8 250.1,658.8 247.0,665.0 C243.9,671.2 238.5,680.5 236.2,685.0 C233.9,689.5 234.5,694.2 233.4,692.0 C232.3,689.8 230.5,679.3 229.6,672.0 C228.7,664.7 228.1,655.0 228.2,648.0 C228.3,641.0 229.1,634.7 230.4,630.0 C231.7,625.3 232.9,620.6 236.2,620.0 Z" fill="none" stroke="#34343a" stroke-width="1.0" stroke-linejoin="round"/>
<path d="M314.5,586.0 C315.1,588.3 317.3,595.7 318.0,600.0 C318.7,604.3 318.5,610.0 318.6,612.0" fill="none" stroke="#2a2c33" stroke-width="2.0" stroke-linejoin="round"/>
<path d="M321.6,644.0 C321.3,646.7 321.3,654.3 320.0,660.0 C318.7,665.7 316.2,673.0 314.0,678.0 C311.8,683.0 308.2,688.0 307.0,690.0" fill="none" stroke="#2a2c33" stroke-width="2.2" stroke-linejoin="round"/>
<path d="M242.0,700.0 C243.2,701.8 245.5,707.9 249.0,710.6 C252.5,713.3 258.3,715.8 263.0,716.4 C267.7,717.0 274.7,714.7 277.0,714.4" fill="none" stroke="#34343a" stroke-width="0.8" stroke-linejoin="round"/>
<polyline points="285.6,561 285.4,606" fill="none" stroke="#34343a" stroke-width="1.0" />
<polyline points="287.6,572 288,604" fill="none" stroke="#555" stroke-width="0.7" />
<polyline points="236.8,612.2 259.6,620.6" fill="none" stroke="#222" stroke-width="1.4" />
<polyline points="276.6,607 286,609.8" fill="none" stroke="#34343a" stroke-width="0.9" />
<polyline points="253.8,648 243.8,668" fill="none" stroke="#34343a" stroke-width="0.8" />
<polyline points="269.6,677 293,706.4" fill="none" stroke="#2a2c33" stroke-width="0.9" />
<polyline points="272.6,677.6 295.6,705" fill="none" stroke="#2a2c33" stroke-width="0.9" />
<polyline points="275.6,678 298,703.4" fill="none" stroke="#2a2c33" stroke-width="0.9" />
<polyline points="279,678.4 300.4,701.6" fill="none" stroke="#2a2c33" stroke-width="0.9" />
<polyline points="299.4,640.4 325.6,620.6" fill="none" stroke="#34343a" stroke-width="0.9" />
<path d="M263.4,637.4 C268,635.6 276,634 284,632.6 L286.4,653 C278,655.4 269,656 264.4,654.4 C260.6,651 260.4,641 263.4,637.4 Z" fill="#fff" stroke="#26282f" stroke-width="1.2"/>
<polyline points="264.6,646.6 276,649.8" fill="none" stroke="#26282f" stroke-width="0.9" />
<path d="M266.6,627.4 C270,621 275,616.6 281,615 L288,617.6 L284.6,632.4 L270,634.4 Z" fill="#fff" stroke="#26282f" stroke-width="1.0" stroke-linejoin="round"/>
<path d="M286.2,617.8 L306.0,626.8 L308.8,620.4 L289.0,611.4 Z" fill="#fff" stroke="#26282f" stroke-width="1.2" stroke-linejoin="round"/>
<line x1="286.3" y1="617.5" x2="303.7" y2="625.4" stroke="#26282f" stroke-width="1.8"/>
<ellipse cx="307.4" cy="623.6" rx="2.17" ry="3.6750000000000003" transform="rotate(12 307.4 623.6)" fill="#8a8e98" stroke="#1c1e24" stroke-width="1.3" />
<path d="M284,632.6 C287,628 293,626.6 298.4,629.6 C300.4,636 300.4,646 297.6,653.4 C293.6,655.4 289.6,655 286.4,653 Z" fill="#fff" stroke="#26282f" stroke-width="1.1"/>
<path d="M290.5,651.5 L306.3,656.5 L308.5,649.9 L292.7,644.9 Z" fill="#fff" stroke="#26282f" stroke-width="1.2" stroke-linejoin="round"/>
<line x1="290.6" y1="651.2" x2="304.6" y2="655.6" stroke="#26282f" stroke-width="1.8"/>
<ellipse cx="307.4" cy="653.2" rx="2.17" ry="3.6750000000000003" transform="rotate(12 307.4 653.2)" fill="#8a8e98" stroke="#1c1e24" stroke-width="1.3" />
<path d="M271.4,667.0 L289.8,675.2 L293.0,668.0 L274.6,659.8 Z" fill="#fff" stroke="#26282f" stroke-width="1.2" stroke-linejoin="round"/>
<line x1="271.6" y1="666.6" x2="287.8" y2="673.8" stroke="#26282f" stroke-width="1.8"/>
<ellipse cx="291.4" cy="671.6" rx="2.418" ry="4.095" transform="rotate(12 291.4 671.6)" fill="#8a8e98" stroke="#1c1e24" stroke-width="1.3" />
<polyline points="280,668.6 287.4,670.6" fill="none" stroke="#555" stroke-width="0.7" />
<ellipse cx="274.2" cy="632.4" rx="2.3" ry="3.0" transform="rotate(12 274.2 632.4)" fill="#70747e" stroke="#1c1e24" stroke-width="1.1" />
<ellipse cx="289.6" cy="612.6" rx="2.3" ry="3.0" transform="rotate(12 289.6 612.6)" fill="#70747e" stroke="#1c1e24" stroke-width="1.1" />
<ellipse cx="273" cy="662.2" rx="2.3" ry="3.0" transform="rotate(12 273 662.2)" fill="#70747e" stroke="#1c1e24" stroke-width="1.1" />
<ellipse cx="289.3" cy="643.3" rx="5.9" ry="8.5" transform="rotate(12 289.3 643.3)" fill="#16181d" stroke="#16181d" stroke-width="1.0" />
<ellipse cx="289.9" cy="643.4" rx="3.3" ry="5.0" transform="rotate(12 289.9 643.4)" fill="#3c3f48" stroke="#555" stroke-width="0.7" />
<ellipse cx="290.2" cy="643.5" rx="1.3" ry="2.2" transform="rotate(12 290.2 643.5)" fill="#e4e5e8" stroke="#888" stroke-width="0.6" />
<path d="M262,670 C263,666 266,664.6 269,665.2 L279,667" fill="none" stroke="#34343a" stroke-width="1.0"/>
<path d="M268.6,671.6 L279.4,673.6" fill="none" stroke="#222" stroke-width="1.4"/>
<ellipse cx="220.4" cy="645" rx="2.8" ry="3.4" transform="rotate(0 220.4 645)" fill="#fff" stroke="#22242a" stroke-width="1.0" />
<ellipse cx="220.4" cy="645" rx="1.2" ry="1.6" transform="rotate(0 220.4 645)" fill="#fff" stroke="#22242a" stroke-width="0.7" />
<ellipse cx="228.8" cy="644.8" rx="2.0" ry="2.4" transform="rotate(0 228.8 644.8)" fill="#22242a" stroke="#22242a" stroke-width="0.8" />
<polyline points="305,649.4 346,653.6" fill="none" stroke="#555" stroke-width="1.0" stroke-dasharray="1.3,1.5" />
<polyline points="283,660.4 350,667.6" fill="none" stroke="#555" stroke-width="1.0" stroke-dasharray="1.3,1.5" />
<rect x="173.8" y="590.2" width="5.6" height="3.6" rx="1.2" fill="#fff" stroke="#333" stroke-width="0.9" transform="rotate(12 173.8 590.2)"/>
<ellipse cx="181.2" cy="592.8" rx="2.7" ry="3.6" transform="rotate(12 181.2 592.8)" fill="#2a2c33" stroke="#1a1c22" stroke-width="0.8" />
<ellipse cx="181.6" cy="592.8" rx="1.0" ry="1.5" transform="rotate(12 181.6 592.8)" fill="#666a74" stroke="#666a74" stroke-width="0.5" />
<rect x="201.4" y="602.8" width="5.6" height="3.6" rx="1.2" fill="#fff" stroke="#333" stroke-width="0.9" transform="rotate(12 201.4 602.8)"/>
<ellipse cx="208.8" cy="605.4" rx="2.7" ry="3.6" transform="rotate(12 208.8 605.4)" fill="#2a2c33" stroke="#1a1c22" stroke-width="0.8" />
<ellipse cx="209.20000000000002" cy="605.4" rx="1.0" ry="1.5" transform="rotate(12 209.20000000000002 605.4)" fill="#666a74" stroke="#666a74" stroke-width="0.5" />
<rect x="163.2" y="610.8" width="5.6" height="3.6" rx="1.2" fill="#fff" stroke="#333" stroke-width="0.9" transform="rotate(12 163.2 610.8)"/>
<ellipse cx="170.8" cy="613.4" rx="2.7" ry="3.6" transform="rotate(12 170.8 613.4)" fill="#2a2c33" stroke="#1a1c22" stroke-width="0.8" />
<ellipse cx="171.20000000000002" cy="613.4" rx="1.0" ry="1.5" transform="rotate(12 171.20000000000002 613.4)" fill="#666a74" stroke="#666a74" stroke-width="0.5" />
<rect x="160.8" y="639.6" width="5.6" height="3.6" rx="1.2" fill="#fff" stroke="#333" stroke-width="0.9" transform="rotate(12 160.8 639.6)"/>
<ellipse cx="168.6" cy="642.4" rx="2.7" ry="3.6" transform="rotate(12 168.6 642.4)" fill="#2a2c33" stroke="#1a1c22" stroke-width="0.8" />
<ellipse cx="169.0" cy="642.4" rx="1.0" ry="1.5" transform="rotate(12 169.0 642.4)" fill="#666a74" stroke="#666a74" stroke-width="0.5" />
<rect x="178.2" y="653.8" width="5.6" height="3.6" rx="1.2" fill="#fff" stroke="#333" stroke-width="0.9" transform="rotate(12 178.2 653.8)"/>
<ellipse cx="186" cy="656.6" rx="2.7" ry="3.6" transform="rotate(12 186 656.6)" fill="#2a2c33" stroke="#1a1c22" stroke-width="0.8" />
<ellipse cx="186.4" cy="656.6" rx="1.0" ry="1.5" transform="rotate(12 186.4 656.6)" fill="#666a74" stroke="#666a74" stroke-width="0.5" />
<path d="M414.4,654.5 L414.1,656.2 L413.7,657.8 L413.1,659.4 L412.5,660.9 L411.8,662.4 L411.2,663.8 L410.6,665.3 L410.1,666.8 L409.6,668.3 L409.2,669.8 L408.9,671.5 L408.6,673.1 L408.2,674.8 L407.8,676.5 L407.2,678.1 L406.6,679.5 L405.8,680.9 L404.9,682.0 L403.9,683.0 L402.9,683.9 L401.9,684.7 L400.8,685.5 L399.8,686.3 L398.9,687.1 L398.0,688.1 L397.1,689.1 L396.3,690.3 L395.4,691.5 L394.6,692.7 L393.7,693.9 L392.7,694.9 L391.7,695.8 L390.6,696.4 L389.6,696.8 L388.4,697.0 L387.3,697.0 L386.2,696.9 L385.2,696.7 L384.1,696.5 L383.0,696.4 L382.0,696.5 L381.0,696.7 L379.9,697.0 L378.8,697.4 L377.7,697.7 L376.6,698.1 L375.5,698.3 L374.4,698.3 L373.3,698.1 L372.3,697.6 L371.3,696.9 L370.5,696.0 L369.6,695.0 L368.8,693.9 L368.1,692.9 L367.3,691.9 L366.5,691.0 L365.6,690.3 L364.7,689.6 L363.7,689.1 L362.7,688.5 L361.7,687.9 L360.8,687.2 L359.9,686.3 L359.1,685.3 L358.4,684.1 L357.9,682.7 L357.5,681.2 L357.1,679.6 L356.9,678.0 L356.6,676.4 L356.4,674.8 L356.1,673.3 L355.7,671.9 L355.3,670.5 L354.7,669.2 L354.2,667.9 L353.6,666.5 L353.1,665.1 L352.6,663.6 L352.3,662.0 L352.1,660.4 L352.2,658.7 L352.3,657.0 L352.6,655.3 L352.9,653.6 L353.3,651.9 L353.7,650.3 L354.0,648.7 L354.3,647.1 L354.4,645.5 L354.5,643.9 L354.5,642.2 L354.6,640.5 L354.6,638.8 L354.8,637.1 L355.0,635.4 L355.4,633.7 L356.0,632.2 L356.7,630.7 L357.4,629.4 L358.3,628.1 L359.2,626.9 L360.1,625.8 L360.9,624.6 L361.7,623.4 L362.4,622.1 L363.0,620.8 L363.7,619.3 L364.3,617.8 L364.9,616.3 L365.6,614.8 L366.4,613.4 L367.2,612.2 L368.2,611.2 L369.2,610.4 L370.3,609.8 L371.4,609.4 L372.5,609.0 L373.6,608.7 L374.7,608.4 L375.7,608.0 L376.7,607.5 L377.7,606.8 L378.7,606.0 L379.7,605.2 L380.8,604.4 L381.8,603.6 L382.9,602.9 L384.0,602.5 L385.1,602.3 L386.2,602.3 L387.2,602.6 L388.3,603.1 L389.3,603.7 L390.3,604.3 L391.2,604.9 L392.2,605.5 L393.1,605.9 L394.1,606.2 L395.2,606.4 L396.2,606.5 L397.3,606.6 L398.4,606.7 L399.5,607.0 L400.5,607.4 L401.5,608.1 L402.4,608.9 L403.1,610.0 L403.8,611.3 L404.4,612.6 L405.0,614.0 L405.5,615.4 L406.0,616.7 L406.6,618.0 L407.2,619.1 L408.0,620.1 L408.7,621.1 L409.6,622.1 L410.4,623.2 L411.2,624.3 L411.9,625.5 L412.4,626.8 L412.9,628.3 L413.1,629.9 L413.3,631.5 L413.3,633.3 L413.2,635.0 L413.2,636.7 L413.1,638.3 L413.1,640.0 L413.1,641.5 L413.3,643.1 L413.5,644.6 L413.8,646.2 L414.1,647.8 L414.4,649.4 L414.5,651.1 L414.5,652.8 Z" fill="#fff" stroke="#22242a" stroke-width="1.4" stroke-linejoin="round"/>
<circle cx="408.7" cy="656.3" r="1.15" fill="#2a2c33"/>
<circle cx="407.9" cy="665.1" r="1.15" fill="#2a2c33"/>
<circle cx="402.7" cy="670.8" r="1.15" fill="#2a2c33"/>
<circle cx="401.8" cy="681.6" r="1.15" fill="#2a2c33"/>
<circle cx="394.8" cy="682.0" r="1.15" fill="#2a2c33"/>
<circle cx="390.8" cy="689.7" r="1.15" fill="#2a2c33"/>
<circle cx="385.1" cy="690.2" r="1.15" fill="#2a2c33"/>
<circle cx="379.5" cy="692.7" r="1.15" fill="#2a2c33"/>
<circle cx="374.9" cy="687.3" r="1.15" fill="#2a2c33"/>
<circle cx="368.0" cy="690.5" r="1.15" fill="#2a2c33"/>
<circle cx="366.3" cy="680.4" r="1.15" fill="#2a2c33"/>
<circle cx="360.8" cy="677.6" r="1.15" fill="#2a2c33"/>
<circle cx="359.3" cy="669.5" r="1.15" fill="#2a2c33"/>
<circle cx="356.6" cy="662.2" r="1.15" fill="#2a2c33"/>
<circle cx="359.0" cy="653.3" r="1.15" fill="#2a2c33"/>
<circle cx="355.6" cy="644.5" r="1.15" fill="#2a2c33"/>
<circle cx="361.6" cy="637.7" r="1.15" fill="#2a2c33"/>
<circle cx="362.2" cy="628.4" r="1.15" fill="#2a2c33"/>
<circle cx="366.9" cy="622.8" r="1.15" fill="#2a2c33"/>
<circle cx="370.9" cy="615.8" r="1.15" fill="#2a2c33"/>
<circle cx="376.9" cy="615.7" r="1.15" fill="#2a2c33"/>
<circle cx="381.7" cy="607.0" r="1.15" fill="#2a2c33"/>
<circle cx="387.1" cy="613.0" r="1.15" fill="#2a2c33"/>
<circle cx="393.0" cy="610.0" r="1.15" fill="#2a2c33"/>
<circle cx="397.5" cy="614.7" r="1.15" fill="#2a2c33"/>
<circle cx="402.6" cy="617.6" r="1.15" fill="#2a2c33"/>
<circle cx="403.9" cy="626.5" r="1.15" fill="#2a2c33"/>
<circle cx="410.3" cy="629.9" r="1.15" fill="#2a2c33"/>
<circle cx="407.7" cy="640.3" r="1.15" fill="#2a2c33"/>
<circle cx="410.7" cy="647.8" r="1.15" fill="#2a2c33"/>
<ellipse cx="383.9" cy="650.4" rx="22.6" ry="35.4" transform="rotate(7 383.9 650.4)" fill="#fff" stroke="#1c1e24" stroke-width="1.9" />
<ellipse cx="384.3" cy="650.4" rx="20.8" ry="33.4" transform="rotate(7 384.3 650.4)" fill="none" stroke="#22242a" stroke-width="1.0" />
<path d="M367.8,648.4 L369.1,648.1 L370.1,647.8 L370.8,647.6 L370.9,647.2 L371.0,646.8 L371.0,646.4 L371.1,646.1 L371.2,645.7 L371.3,645.3 L371.3,645.0 L371.4,644.6 L371.5,644.2 L371.6,643.8 L371.7,643.5 L371.8,643.1 L371.9,642.8 L372.1,642.4 L372.2,642.0 L372.3,641.7 L372.4,641.3 L372.5,641.0 L372.7,640.7 L372.8,640.3 L372.9,640.0 L372.9,639.4 L372.4,638.5 L371.7,637.2 L370.9,635.8 L370.2,634.4 L369.8,633.2 L369.8,632.5 L370.0,632.1 L370.3,631.6 L370.5,631.2 L370.7,630.8 L371.0,630.4 L371.2,630.0 L371.5,629.6 L371.8,629.2 L372.0,628.8 L372.3,628.4 L372.6,628.0 L372.8,627.6 L373.1,627.3 L373.4,626.9 L373.7,626.6 L374.0,626.2 L374.3,625.9 L374.6,625.6 L374.9,625.3 L375.2,625.0 L375.5,624.7 L375.8,624.4 L376.1,624.1 L376.4,623.8 L376.7,623.5 L377.0,623.3 L377.3,623.0 L377.7,622.8 L378.0,622.5 L378.3,622.3 L378.7,622.3 L379.2,623.1 L379.8,624.4 L380.4,626.1 L380.9,627.7 L381.4,628.9 L381.7,629.5 L381.9,629.4 L382.2,629.3 L382.4,629.2 L382.6,629.1 L382.9,629.0 L383.1,628.9 L383.4,628.8 L383.6,628.8 L383.9,628.7 L384.1,628.7 L384.3,628.6 L384.6,628.6 L384.8,628.5 L385.1,628.5 L385.3,628.5 L385.5,628.5 L385.8,628.5 L386.0,628.5 L386.3,628.5 L386.5,628.5 L386.7,628.5 L387.1,627.8 L387.5,626.5 L388.0,624.7 L388.6,622.8 L389.2,621.2 L389.7,620.2 L390.1,620.0 L390.4,620.1 L390.7,620.2 L391.0,620.3 L391.4,620.4 L391.7,620.6 L392.0,620.7 L392.3,620.9 L392.6,621.1 L392.9,621.2 L393.2,621.4 L393.5,621.6 L393.8,621.8 L394.1,622.0 L394.4,622.2 L394.7,622.5 L395.0,622.7 L395.3,622.9 L395.6,623.2 L395.8,623.5 L396.1,623.7 L396.4,624.0 L396.7,624.3 L396.9,624.6 L397.2,624.9 L397.2,625.6 L396.9,626.9 L396.4,628.7 L395.7,630.5 L395.1,632.1 L394.7,633.4 L394.6,633.9 L394.8,634.2 L395.0,634.4 L395.1,634.7 L395.3,635.0 L395.4,635.3 L395.6,635.5 L395.7,635.8 L395.8,636.1 L396.0,636.4 L396.1,636.7 L396.2,637.0 L396.3,637.3 L396.5,637.6 L396.6,637.9 L396.7,638.2 L396.8,638.6 L396.9,638.9 L397.0,639.2 L397.1,639.6 L397.2,639.9 L397.3,640.2 L398.0,640.1 L399.0,639.8 L400.2,639.4 L401.5,639.0 L402.5,638.9 L403.2,639.0 L403.3,639.5 L403.4,640.0 L403.5,640.5 L403.5,641.0 L403.6,641.6 L403.6,642.1 L403.7,642.6 L403.7,643.1 L403.8,643.6 L403.8,644.2 L403.8,644.7 L403.8,645.2 L403.9,645.8 L403.9,646.3 L403.9,646.8 L403.9,647.4 L403.9,647.9 L403.8,648.4 L403.8,649.0 L403.8,649.5 L403.8,650.1 L403.7,650.6 L403.7,651.1 L403.6,651.7 L403.6,652.2 L403.5,652.8 L403.3,653.3 L402.6,653.7 L401.5,654.0 L400.3,654.2 L399.1,654.4 L398.1,654.5 L397.5,654.7 L397.4,655.1 L397.3,655.5 L397.3,655.8 L397.2,656.2 L397.1,656.6 L397.0,657.0 L396.9,657.3 L396.8,657.7 L396.7,658.0 L396.5,658.4 L396.4,658.8 L396.3,659.1 L396.2,659.5 L396.1,659.8 L395.9,660.1 L395.8,660.5 L395.7,660.8 L395.5,661.2 L395.4,661.5 L395.2,661.8 L395.1,662.2 L395.2,662.8 L395.7,663.9 L396.4,665.3 L397.1,666.8 L397.6,668.2 L397.9,669.4 L397.9,670.0 L397.6,670.4 L397.4,670.8 L397.1,671.2 L396.8,671.6 L396.6,672.0 L396.3,672.4 L396.0,672.8 L395.8,673.2 L395.5,673.5 L395.2,673.9 L394.9,674.2 L394.6,674.6 L394.3,674.9 L394.0,675.2 L393.7,675.5 L393.4,675.8 L393.1,676.1 L392.8,676.4 L392.5,676.7 L392.2,677.0 L391.9,677.3 L391.6,677.5 L391.3,677.8 L390.9,678.0 L390.6,678.3 L390.3,678.5 L390.0,678.7 L389.6,678.9 L389.3,679.1 L388.9,679.0 L388.4,678.1 L387.9,676.6 L387.4,674.9 L386.9,673.3 L386.5,672.1 L386.2,671.6 L386.0,671.7 L385.7,671.8 L385.5,671.9 L385.2,672.0 L385.0,672.0 L384.7,672.1 L384.5,672.1 L384.3,672.2 L384.0,672.2 L383.8,672.3 L383.5,672.3 L383.3,672.3 L383.1,672.3 L382.8,672.3 L382.6,672.3 L382.3,672.3 L382.1,672.3 L381.9,672.3 L381.6,672.3 L381.4,672.2 L381.1,672.3 L380.8,673.0 L380.3,674.5 L379.7,676.2 L379.1,678.1 L378.4,679.6 L377.9,680.4 L377.6,680.5 L377.2,680.4 L376.9,680.2 L376.6,680.1 L376.3,679.9 L376.0,679.7 L375.7,679.6 L375.4,679.4 L375.1,679.2 L374.8,679.0 L374.5,678.8 L374.2,678.6 L373.9,678.3 L373.6,678.1 L373.3,677.9 L373.0,677.6 L372.8,677.3 L372.5,677.1 L372.2,676.8 L371.9,676.5 L371.7,676.2 L371.4,675.9 L371.2,675.5 L371.4,674.5 L371.8,672.9 L372.4,671.1 L373.1,669.4 L373.6,667.9 L373.9,666.9 L373.8,666.6 L373.6,666.4 L373.5,666.1 L373.3,665.8 L373.2,665.5 L373.0,665.3 L372.9,665.0 L372.8,664.7 L372.6,664.4 L372.5,664.1 L372.4,663.8 L372.3,663.5 L372.1,663.2 L372.0,662.9 L371.9,662.6 L371.8,662.2 L371.7,661.9 L371.6,661.6 L371.5,661.2 L371.4,660.9 L371.3,660.6 L371.0,660.4 L370.1,660.6 L369.0,661.0 L367.7,661.4 L366.5,661.6 L365.7,661.6 L365.3,661.3 L365.2,660.8 L365.1,660.3 L365.1,659.8 L365.0,659.2 L365.0,658.7 L364.9,658.2 L364.9,657.7 L364.8,657.2 L364.8,656.6 L364.8,656.1 L364.8,655.6 L364.7,655.0 L364.7,654.5 L364.7,654.0 L364.7,653.4 L364.7,652.9 L364.8,652.4 L364.8,651.8 L364.8,651.3 L364.8,650.7 L364.9,650.2 L365.0,649.7 L365.6,649.2 L366.6,648.7 Z" fill="#fff" stroke="#22242a" stroke-width="1.25" stroke-linejoin="round"/>
<ellipse cx="384.2" cy="621.8" rx="2.0" ry="2.6" transform="rotate(7 384.2 621.8)" fill="#9a9ea8" stroke="#1c1e24" stroke-width="1.3" />
<ellipse cx="400.7" cy="631.5" rx="2.0" ry="2.6" transform="rotate(7 400.7 631.5)" fill="#9a9ea8" stroke="#1c1e24" stroke-width="1.3" />
<ellipse cx="400" cy="661" rx="2.0" ry="2.6" transform="rotate(7 400 661)" fill="#9a9ea8" stroke="#1c1e24" stroke-width="1.3" />
<ellipse cx="383.5" cy="679" rx="2.0" ry="2.6" transform="rotate(7 383.5 679)" fill="#9a9ea8" stroke="#1c1e24" stroke-width="1.3" />
<ellipse cx="367" cy="670" rx="2.0" ry="2.6" transform="rotate(7 367 670)" fill="#9a9ea8" stroke="#1c1e24" stroke-width="1.3" />
<ellipse cx="367" cy="641" rx="2.0" ry="2.6" transform="rotate(7 367 641)" fill="#9a9ea8" stroke="#1c1e24" stroke-width="1.3" />
<polyline points="345,653.4 417,663 446.6,672.6" fill="none" stroke="#555" stroke-width="1.0" stroke-dasharray="1.3,1.5" />
<path d="M419.4,660.6 L425.6,661.8 L425.4,670.6 L419.2,669.4 C417.4,667.6 417.6,662 419.4,660.6 Z" fill="#fff" stroke="#34343a" stroke-width="1.0"/>
<path d="M425.4,659.4 L430.6,660.4 L430.4,672.6 L425.2,671.6 Z" fill="#fff" stroke="#34343a" stroke-width="1.0" stroke-linejoin="round"/>
<path d="M430.4,662.4 L436.6,663.6 L436.4,671.6 L430.2,670.4 Z" fill="#fff" stroke="#34343a" stroke-width="1.0"/>
<ellipse cx="436.6" cy="667.6" rx="2.2" ry="4.0" transform="rotate(8 436.6 667.6)" fill="#fff" stroke="#34343a" stroke-width="1.0" />
<ellipse cx="451.2" cy="674" rx="3.6" ry="6.2" transform="rotate(8 451.2 674)" fill="#50545e" stroke="#1c1e24" stroke-width="1.3" />
<ellipse cx="452.6" cy="674.2" rx="2.8" ry="5.0" transform="rotate(8 452.6 674.2)" fill="#fff" stroke="#1c1e24" stroke-width="1.0" />
<path d="M452.6,669.4 L457.6,670.2 L457.4,678.8 L452.4,678 Z" fill="#fff" stroke="#34343a" stroke-width="1.0"/>
<ellipse cx="457.6" cy="674.6" rx="2.4" ry="4.3" transform="rotate(8 457.6 674.6)" fill="#fff" stroke="#1c1e24" stroke-width="1.1" />
<ellipse cx="457.8" cy="674.6" rx="1.1" ry="2.3" transform="rotate(8 457.8 674.6)" fill="#fff" stroke="#1c1e24" stroke-width="0.7" />
<path d="M143.2,777 L158.4,748.6 L160,759.4 L180,748.2 L180.6,763.4 L160.2,774.4 L159.6,786.4 Z" fill="#fff" stroke="#2a2a2e" stroke-width="1.1" stroke-linejoin="round"/>
<path d="M143.4,776.4 L158.4,748.6 L160.2,759.2 L180,748.2" fill="none" stroke="#111" stroke-width="2.2" stroke-linejoin="round" stroke-linecap="round"/>
<text transform="matrix(0.743,-0.401,-0.09,1,156.0,774.7)" font-size="13.3" fill="#2a2a2e" stroke="#2a2a2e" stroke-width="0.3">FWD</text>
<polyline points="156.2,113 156.2,137" fill="none" stroke="#34343a" stroke-width="1.35" />
<polyline points="170.4,91 170.4,139.6" fill="none" stroke="#34343a" stroke-width="1.35" />
<polyline points="189.2,114.6 189.2,127.4 181.6,127.4 181.6,140.5" fill="none" stroke="#34343a" stroke-width="1.35" />
<polyline points="214.4,114.3 214.4,147.5 202.6,147.5" fill="none" stroke="#34343a" stroke-width="1.35" />
<polyline points="235.5,132.6 235.5,155.4" fill="none" stroke="#34343a" stroke-width="1.35" />
<polyline points="297.3,62.5 297.3,94" fill="none" stroke="#34343a" stroke-width="1.35" />
<polyline points="393.4,90.5 393.4,118.4" fill="none" stroke="#34343a" stroke-width="1.35" />
<polyline points="454.6,124 454.6,154" fill="none" stroke="#34343a" stroke-width="1.35" />
<polyline points="342.5,323 342.5,334.6" fill="none" stroke="#34343a" stroke-width="1.35" />
<polyline points="303,425.8 303,451" fill="none" stroke="#34343a" stroke-width="1.35" />
<polyline points="347.4,418 347.4,432.4" fill="none" stroke="#34343a" stroke-width="1.35" />
<polyline points="380.3,417.4 380.3,462.8" fill="none" stroke="#34343a" stroke-width="1.35" />
<polyline points="411.7,417.4 411.7,475.6" fill="none" stroke="#34343a" stroke-width="1.35" />
<polyline points="399,448 399,469.6" fill="none" stroke="#34343a" stroke-width="1.35" />
<polyline points="441.6,437.8 441.6,462.6" fill="none" stroke="#34343a" stroke-width="1.35" />
<polyline points="467.8,409.4 467.8,453.6 476.9,453.6 476.9,482.4" fill="none" stroke="#34343a" stroke-width="1.35" />
<polyline points="482.2,437.8 482.2,481.8" fill="none" stroke="#34343a" stroke-width="1.35" />
<polyline points="506.5,437.8 506.5,472" fill="none" stroke="#34343a" stroke-width="1.35" />
<polyline points="532.7,443.4 532.7,453.6 511.9,453.6 511.9,470" fill="none" stroke="#34343a" stroke-width="1.35" />
<polyline points="549.7,483.3 549.7,508.8" fill="none" stroke="#34343a" stroke-width="1.35" />
<polyline points="516,487.3 496.5,487.3 496.5,478.8" fill="none" stroke="#34343a" stroke-width="1.35" />
<polyline points="496.2,514.8 488.1,514.8 488.1,499 482.6,499" fill="none" stroke="#34343a" stroke-width="1.35" />
<polyline points="478.4,497.6 478.4,515.6" fill="none" stroke="#34343a" stroke-width="1.35" />
<polyline points="599.3,495.4 599.3,519.8" fill="none" stroke="#34343a" stroke-width="1.35" />
<polyline points="379.8,509.6 379.8,538.6" fill="none" stroke="#34343a" stroke-width="1.35" />
<polyline points="564.2,547.7 546.2,547.9" fill="none" stroke="#34343a" stroke-width="1.35" />
<polyline points="433,575.6 433,558.4 447.4,558.4 447.4,544.6" fill="none" stroke="#34343a" stroke-width="1.35" />
<polyline points="457.6,575.6 457.6,547.4" fill="none" stroke="#34343a" stroke-width="1.35" />
<polyline points="496,566.6 496,552.6 512.1,552.6 512.1,543" fill="none" stroke="#34343a" stroke-width="1.35" />
<polyline points="524.6,598.8 524.6,582" fill="none" stroke="#34343a" stroke-width="1.35" />
<polyline points="620.2,606.6 620.2,588.6" fill="none" stroke="#34343a" stroke-width="1.35" />
<polyline points="177.2,564.3 177.2,589.6" fill="none" stroke="#34343a" stroke-width="1.35" />
<polyline points="246.6,541 246.6,565" fill="none" stroke="#34343a" stroke-width="1.35" />
<polyline points="360.6,602.4 360.6,627" fill="none" stroke="#34343a" stroke-width="1.35" />
<polyline points="430,638.4 430,660" fill="none" stroke="#34343a" stroke-width="1.35" />
<polyline points="456,644.4 456,668" fill="none" stroke="#34343a" stroke-width="1.35" />
<circle cx="156.2" cy="102" r="11.4" fill="#fff" stroke="#34343a" stroke-width="1.3"/>
<text x="156.2" y="106.5" text-anchor="middle" font-size="11.8" fill="#3a3a44" stroke="#3a3a44" stroke-width="0.2">1</text>
<circle cx="170.3" cy="79.8" r="11.4" fill="#fff" stroke="#34343a" stroke-width="1.3"/>
<text x="170.3" y="84.3" text-anchor="middle" font-size="11.8" fill="#3a3a44" stroke="#3a3a44" stroke-width="0.2">2</text>
<circle cx="189.2" cy="103.2" r="11.4" fill="#fff" stroke="#34343a" stroke-width="1.3"/>
<text x="189.2" y="107.7" text-anchor="middle" font-size="11.8" fill="#3a3a44" stroke="#3a3a44" stroke-width="0.2">3</text>
<circle cx="214.4" cy="102.9" r="11.4" fill="#fff" stroke="#34343a" stroke-width="1.3"/>
<text x="214.4" y="107.4" text-anchor="middle" font-size="11.8" fill="#3a3a44" stroke="#3a3a44" stroke-width="0.2">4</text>
<circle cx="235.5" cy="121.2" r="11.4" fill="#fff" stroke="#34343a" stroke-width="1.3"/>
<text x="235.5" y="125.7" text-anchor="middle" font-size="11.8" fill="#3a3a44" stroke="#3a3a44" stroke-width="0.2">5</text>
<circle cx="296.8" cy="51.1" r="11.4" fill="#fff" stroke="#34343a" stroke-width="1.3"/>
<text x="296.8" y="55.6" text-anchor="middle" font-size="11.8" fill="#3a3a44" stroke="#3a3a44" stroke-width="0.2">6A</text>
<circle cx="394" cy="79" r="11.4" fill="#fff" stroke="#34343a" stroke-width="1.3"/>
<text x="394" y="83.5" text-anchor="middle" font-size="11.8" fill="#3a3a44" stroke="#3a3a44" stroke-width="0.2">31</text>
<circle cx="454.6" cy="112.4" r="11.4" fill="#fff" stroke="#34343a" stroke-width="1.3"/>
<text x="454.6" y="116.9" text-anchor="middle" font-size="11.8" fill="#3a3a44" stroke="#3a3a44" stroke-width="0.2">7A</text>
<circle cx="342.5" cy="346" r="11.4" fill="#fff" stroke="#34343a" stroke-width="1.3"/>
<text x="342.5" y="350.5" text-anchor="middle" font-size="11.8" fill="#3a3a44" stroke="#3a3a44" stroke-width="0.2">9A</text>
<circle cx="303" cy="414.4" r="11.4" fill="#fff" stroke="#34343a" stroke-width="1.3"/>
<text x="303" y="418.9" text-anchor="middle" font-size="11.8" fill="#3a3a44" stroke="#3a3a44" stroke-width="0.2">4</text>
<circle cx="347.4" cy="406.6" r="11.4" fill="#fff" stroke="#34343a" stroke-width="1.3"/>
<text x="347.4" y="411.1" text-anchor="middle" font-size="11.8" fill="#3a3a44" stroke="#3a3a44" stroke-width="0.2">11</text>
<circle cx="380.4" cy="406" r="11.4" fill="#fff" stroke="#34343a" stroke-width="1.3"/>
<text x="380.4" y="410.5" text-anchor="middle" font-size="11.8" fill="#3a3a44" stroke="#3a3a44" stroke-width="0.2">12</text>
<circle cx="411.6" cy="406" r="11.4" fill="#fff" stroke="#34343a" stroke-width="1.3"/>
<text x="411.6" y="410.5" text-anchor="middle" font-size="11.8" fill="#3a3a44" stroke="#3a3a44" stroke-width="0.2">14</text>
<circle cx="399" cy="436.6" r="11.4" fill="#fff" stroke="#34343a" stroke-width="1.3"/>
<text x="399" y="441.1" text-anchor="middle" font-size="11.8" fill="#3a3a44" stroke="#3a3a44" stroke-width="0.2">13</text>
<circle cx="441.6" cy="426.4" r="11.4" fill="#fff" stroke="#34343a" stroke-width="1.3"/>
<text x="441.6" y="430.9" text-anchor="middle" font-size="11.8" fill="#3a3a44" stroke="#3a3a44" stroke-width="0.2">15</text>
<circle cx="468" cy="398" r="11.4" fill="#fff" stroke="#34343a" stroke-width="1.3"/>
<text x="468" y="402.5" text-anchor="middle" font-size="11.8" fill="#3a3a44" stroke="#3a3a44" stroke-width="0.2">16</text>
<circle cx="482" cy="426.4" r="11.4" fill="#fff" stroke="#34343a" stroke-width="1.3"/>
<text x="482" y="430.9" text-anchor="middle" font-size="11.8" fill="#3a3a44" stroke="#3a3a44" stroke-width="0.2">17</text>
<circle cx="506.4" cy="426.4" r="11.4" fill="#fff" stroke="#34343a" stroke-width="1.3"/>
<text x="506.4" y="430.9" text-anchor="middle" font-size="11.8" fill="#3a3a44" stroke="#3a3a44" stroke-width="0.2">19</text>
<circle cx="532.6" cy="432" r="11.4" fill="#fff" stroke="#34343a" stroke-width="1.3"/>
<text x="532.6" y="436.5" text-anchor="middle" font-size="11.8" fill="#3a3a44" stroke="#3a3a44" stroke-width="0.2">20</text>
<circle cx="549.8" cy="471.9" r="11.4" fill="#fff" stroke="#34343a" stroke-width="1.3"/>
<text x="549.8" y="476.4" text-anchor="middle" font-size="11.8" fill="#3a3a44" stroke="#3a3a44" stroke-width="0.2">2</text>
<circle cx="527.4" cy="487.4" r="11.4" fill="#fff" stroke="#34343a" stroke-width="1.3"/>
<text x="527.4" y="491.9" text-anchor="middle" font-size="11.8" fill="#3a3a44" stroke="#3a3a44" stroke-width="0.2">18</text>
<circle cx="507.6" cy="514.9" r="11.4" fill="#fff" stroke="#34343a" stroke-width="1.3"/>
<text x="507.6" y="519.4" text-anchor="middle" font-size="11.8" fill="#3a3a44" stroke="#3a3a44" stroke-width="0.2">22</text>
<circle cx="478.2" cy="527" r="11.4" fill="#fff" stroke="#34343a" stroke-width="1.3"/>
<text x="478.2" y="531.5" text-anchor="middle" font-size="11.8" fill="#3a3a44" stroke="#3a3a44" stroke-width="0.2">10</text>
<circle cx="599.5" cy="484" r="11.4" fill="#fff" stroke="#34343a" stroke-width="1.3"/>
<text x="599.5" y="488.5" text-anchor="middle" font-size="11.8" fill="#3a3a44" stroke="#3a3a44" stroke-width="0.2">21</text>
<circle cx="379.6" cy="550" r="11.4" fill="#fff" stroke="#34343a" stroke-width="1.3"/>
<text x="379.6" y="554.5" text-anchor="middle" font-size="11.8" fill="#3a3a44" stroke="#3a3a44" stroke-width="0.2">29</text>
<circle cx="575.6" cy="547.6" r="11.4" fill="#fff" stroke="#34343a" stroke-width="1.3"/>
<text x="575.6" y="552.1" text-anchor="middle" font-size="11.8" fill="#3a3a44" stroke="#3a3a44" stroke-width="0.2">23</text>
<circle cx="433.2" cy="587" r="11.4" fill="#fff" stroke="#34343a" stroke-width="1.3"/>
<text x="433.2" y="591.5" text-anchor="middle" font-size="11.8" fill="#3a3a44" stroke="#3a3a44" stroke-width="0.2">27</text>
<circle cx="457.6" cy="587" r="11.4" fill="#fff" stroke="#34343a" stroke-width="1.3"/>
<text x="457.6" y="591.5" text-anchor="middle" font-size="11.8" fill="#3a3a44" stroke="#3a3a44" stroke-width="0.2">26</text>
<circle cx="496" cy="578" r="11.4" fill="#fff" stroke="#34343a" stroke-width="1.3"/>
<text x="496" y="582.5" text-anchor="middle" font-size="11.8" fill="#3a3a44" stroke="#3a3a44" stroke-width="0.2">28</text>
<circle cx="524.8" cy="610.4" r="11.4" fill="#fff" stroke="#34343a" stroke-width="1.3"/>
<text x="524.8" y="614.9" text-anchor="middle" font-size="11.8" fill="#3a3a44" stroke="#3a3a44" stroke-width="0.2">25</text>
<circle cx="620" cy="618" r="11.4" fill="#fff" stroke="#34343a" stroke-width="1.3"/>
<text x="620" y="622.5" text-anchor="middle" font-size="11.8" fill="#3a3a44" stroke="#3a3a44" stroke-width="0.2">30</text>
<circle cx="177.4" cy="552.9" r="11.4" fill="#fff" stroke="#34343a" stroke-width="1.3"/>
<text x="177.4" y="557.4" text-anchor="middle" font-size="11.8" fill="#3a3a44" stroke="#3a3a44" stroke-width="0.2">33</text>
<circle cx="246.6" cy="529.5" r="11.4" fill="#fff" stroke="#34343a" stroke-width="1.3"/>
<text x="246.6" y="534.0" text-anchor="middle" font-size="11.8" fill="#3a3a44" stroke="#3a3a44" stroke-width="0.2">7B</text>
<circle cx="360.6" cy="591" r="11.4" fill="#fff" stroke="#34343a" stroke-width="1.3"/>
<text x="360.6" y="595.5" text-anchor="middle" font-size="11.8" fill="#3a3a44" stroke="#3a3a44" stroke-width="0.2">32</text>
<circle cx="430" cy="627" r="11.4" fill="#fff" stroke="#34343a" stroke-width="1.3"/>
<text x="430" y="631.5" text-anchor="middle" font-size="11.8" fill="#3a3a44" stroke="#3a3a44" stroke-width="0.2">5A</text>
<circle cx="456" cy="633" r="11.4" fill="#fff" stroke="#34343a" stroke-width="1.3"/>
<text x="456" y="637.5" text-anchor="middle" font-size="11.8" fill="#3a3a44" stroke="#3a3a44" stroke-width="0.2">3A</text>
</svg>
</body></html>
